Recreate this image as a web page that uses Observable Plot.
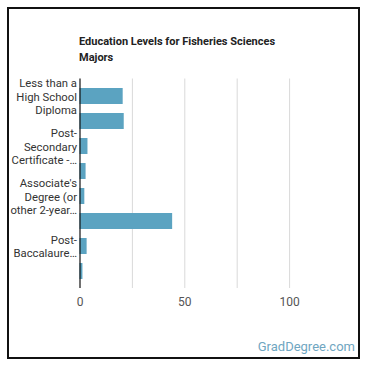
<!DOCTYPE html>
<html>
<head>
<meta charset="utf-8">
<script src="https://cdn.jsdelivr.net/npm/d3@7"></script>
<script src="https://cdn.jsdelivr.net/npm/@observablehq/plot@0.6"></script>
<style>
  html, body { margin: 0; padding: 0; background: #fff; }
  #wrap { position: relative; width: 370px; height: 370px; font-family: Roboto, "Noto Sans", sans-serif; }
  #frame { position: absolute; left: 7px; top: 7px; width: 349px; height: 348px; border: 2px solid #111; box-sizing: content-box; }
  #title { position: absolute; left: 79px; top: 34px; width: 220px; font-size: 11px; font-weight: bold; line-height: 16px; color: #222; }
  #chart { position: absolute; left: 0; top: 0; }
  #credit { position: absolute; right: 15px; top: 339px; font-size: 13px; color: #6fa6c1; }
</style>
</head>
<body>
<div id="wrap">
  <div id="frame"></div>
  <div id="chart"></div>
  <div id="title">Education Levels for Fisheries Sciences Majors</div>
  <div id="credit">GradDegree.com</div>
</div>
<script>
const categories = [
  "Less than a High School Diploma",
  "High School Diploma",
  "Post-Secondary Certificate - Awarded for training completed after high school",
  "Some College Courses",
  "Associate's Degree (or other 2-year degree)",
  "Bachelor's Degree",
  "Post-Baccalaureate Certificate",
  "Master's Degree"
];
const values = [20.6, 21.1, 3.8, 2.9, 2.3, 44.2, 3.4, 1.4];
const labeledCategories = [categories[0], categories[2], categories[4], categories[6]];
const tickLabels = [
  "Less than a\nHigh School\nDiploma",
  "Post-\nSecondary\nCertificate -…",
  "Associate's\nDegree (or\nother 2-year…",
  "Post-\nBaccalaure…"
];
const xTicks = [0, 50, 100];
const gridTicks = [25, 50, 75, 100];

const data = categories.map((c, i) => ({category: c, value: values[i]}));
const labelMap = new Map(labeledCategories.map((c, i) => [c, tickLabels[i]]));

const chart = Plot.plot({
  width: 370,
  height: 370,
  marginLeft: 79.5,
  marginRight: 28.5,
  marginTop: 78.5,
  marginBottom: 82,
  style: {fontFamily: "Roboto, 'Noto Sans', sans-serif", background: "transparent"},
  x: {domain: [0, 125]},
  y: {domain: categories, padding: 0.35},
  marks: [
    Plot.ruleX(gridTicks, {stroke: "#d9d9d9", strokeWidth: 1}),
    Plot.barX(data, {x: "value", y: "category", fill: "#5ba3c1"}),
    Plot.ruleX([0], {stroke: "#111", strokeWidth: 1.2}),
    Plot.axisX({ticks: xTicks, tickSize: 0, tickPadding: 9, fontSize: 12, color: "#555", label: null}),
    Plot.axisY({ticks: labeledCategories, tickSize: 0, tickPadding: 3, fontSize: 11.3, color: "#333",
                tickFormat: d => labelMap.get(d) ?? "", lineHeight: 1.18, textOverflow: null, lineWidth: Infinity, label: null})
  ]
});
document.getElementById("chart").appendChild(chart);
</script>
</body>
</html>
